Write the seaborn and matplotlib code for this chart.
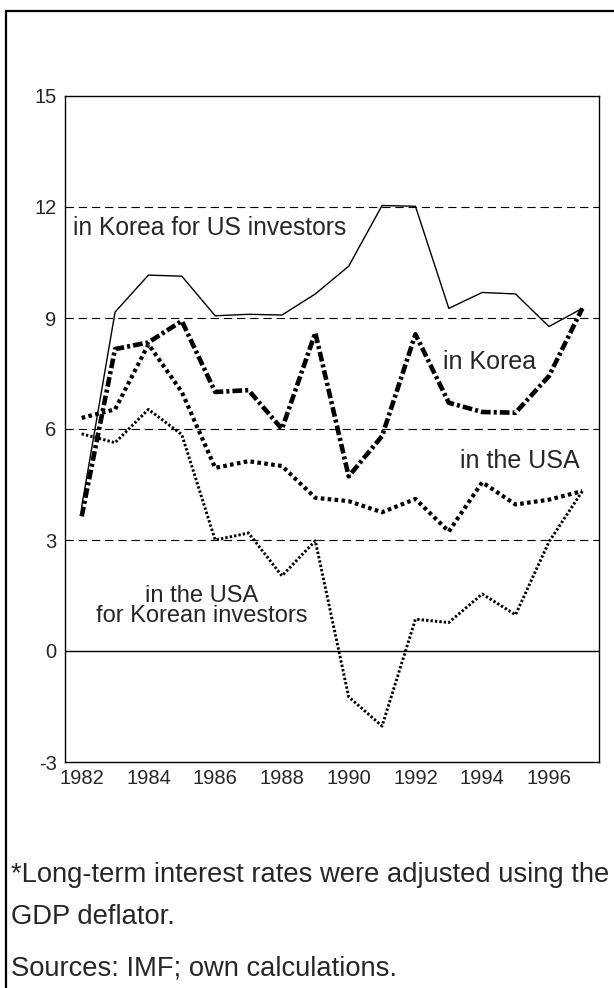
import matplotlib
matplotlib.use("Agg")
import matplotlib.pyplot as plt
import seaborn as sns
import numpy as np
import pandas as pd

years = list(range(1982, 1998))
korea_us_inv = [3.9, 9.16, 10.16, 10.13, 9.06, 9.1, 9.08, 9.65, 10.4, 12.04, 12.02, 9.26, 9.69, 9.65, 8.77, 9.26]
korea = [3.64, 8.16, 8.34, 8.92, 7.0, 7.05, 6.0, 8.6, 4.72, 5.81, 8.56, 6.71, 6.46, 6.44, 7.43, 9.26]
usa = [6.3, 6.53, 8.29, 7.0, 4.95, 5.13, 5.0, 4.14, 4.05, 3.75, 4.11, 3.23, 4.56, 3.96, 4.09, 4.32]
usa_kr_inv = [5.87, 5.63, 6.53, 5.85, 3.0, 3.19, 2.03, 2.98, -1.24, -2.03, 0.86, 0.77, 1.54, 0.98, 2.95, 4.32]
year_labels = [str(y) for y in years[::2]]
y_ticks = [-3, 0, 3, 6, 9, 12, 15]

df = pd.DataFrame({"pos": np.arange(len(years)), "korea_us_inv": korea_us_inv,
                   "korea": korea, "usa": usa, "usa_kr_inv": usa_kr_inv})

sns.set_style("white")
plt.rcParams['font.family'] = ['Liberation Sans', 'DejaVu Sans']
plt.rcParams['lines.scale_dashes'] = False

fig = plt.figure(figsize=(6.14, 9.88), dpi=100)
ax = fig.add_axes([65 / 614, 1 - 762 / 988, 534 / 614, 666 / 988])

# grid lines
for v in [3, 6, 9, 12]:
    ax.axhline(v, color="black", lw=0.8, linestyle=(0, (6, 3.5)), zorder=1)
ax.axhline(0, color="black", lw=1.0, zorder=1)

sns.lineplot(data=df, x="pos", y="korea_us_inv", ax=ax, color="black", lw=1.0, zorder=3)
sns.lineplot(data=df, x="pos", y="korea", ax=ax, color="black", lw=3.3,
             linestyle=(0, (7, 2.2, 2.2, 2.2)), dash_capstyle="butt", zorder=3)
sns.lineplot(data=df, x="pos", y="usa", ax=ax, color="black", lw=3.0,
             linestyle=(0, (2.6, 2.4)), dash_capstyle="butt", zorder=3)
sns.lineplot(data=df, x="pos", y="usa_kr_inv", ax=ax, color="black", lw=2.1,
             linestyle=(0, (1.7, 1.5)), dash_capstyle="butt", zorder=3)

ax.set_xlim(-0.5, len(years) - 0.5)
ax.set_ylim(-3, 15)
ax.set_yticks(y_ticks)
ax.set_yticklabels([str(t) for t in y_ticks], fontsize=14.5)
ax.set_xticks(np.arange(-0.5, len(years), 1.0))
ax.set_xticklabels([])
ax.set_xticks(np.arange(0, len(years), 2), minor=True)
ax.set_xticklabels(year_labels, minor=True, fontsize=14.5)
ax.tick_params(axis="x", which="major", direction="out", length=4, width=0.8, color="black")
ax.tick_params(axis="x", which="minor", length=0, pad=5)
ax.tick_params(axis="y", direction="out", length=4, width=0.8, color="black", pad=2)
ax.set_xlabel("")
ax.set_ylabel("")
for s in ax.spines.values():
    s.set_color("black")
    s.set_linewidth(1.0)

ax.text(-0.27, 11.44, "in Korea for US investors", fontsize=17.7, ha="left", va="center")
ax.text(12.23, 7.8, "in Korea", fontsize=18, ha="center", va="center")
ax.text(13.14, 5.13, "in the USA", fontsize=18, ha="center", va="center")
ax.text(3.6, 1.22, "in the USA\nfor Korean investors", fontsize=17, ha="center",
        va="center", linespacing=0.85)

# frame lines of the source page
fig.add_artist(plt.Line2D([6 / 614, 6 / 614], [0, 1 - 11 / 988], color="black", lw=1.6,
                          transform=fig.transFigure))
fig.add_artist(plt.Line2D([6 / 614, 1], [1 - 11 / 988, 1 - 11 / 988], color="black", lw=1.6,
                          transform=fig.transFigure))

fig.text(11 / 614, 1 - 875 / 988, "*Long-term interest rates were adjusted using the",
         fontsize=19.7, va="center", ha="left")
fig.text(11 / 614, 1 - 917 / 988, "GDP deflator.", fontsize=19.7, va="center", ha="left")
fig.text(11 / 614, 1 - 968 / 988, "Sources: IMF; own calculations.", fontsize=19.7,
         va="center", ha="left")

fig.savefig("out.png", dpi=100)
